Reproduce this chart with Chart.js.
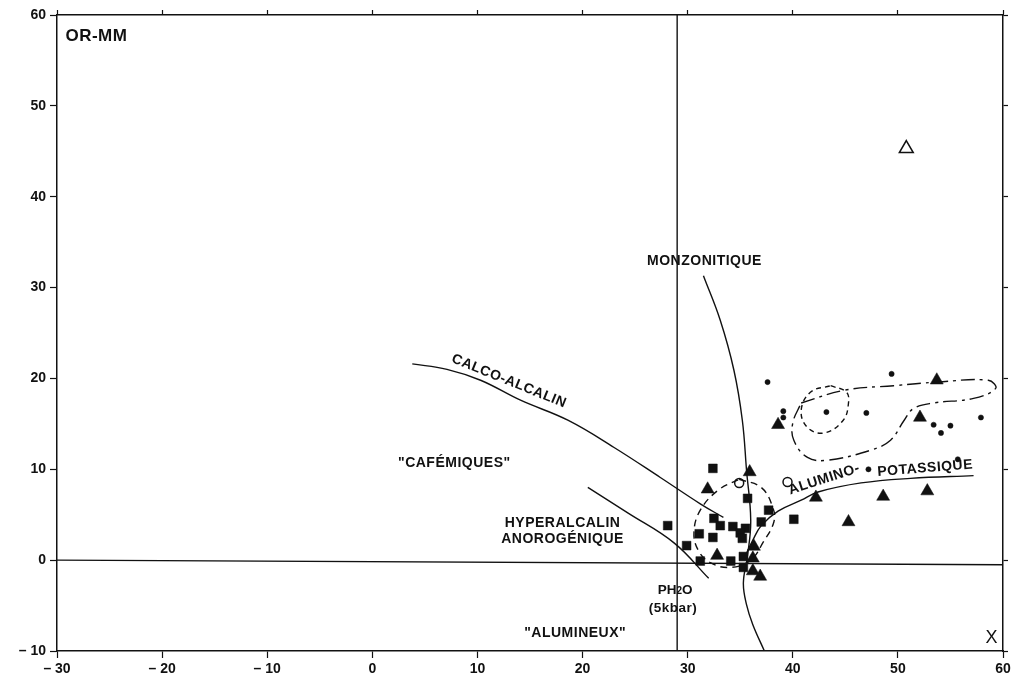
<!DOCTYPE html>
<html>
<head>
<meta charset="utf-8">
<title>OR-MM</title>
<script src="https://cdn.jsdelivr.net/npm/chart.js@4.4.1/dist/chart.umd.min.js"></script>
<style>
    body { margin: 0; background: #fff; }
    #wrap { width: 1015px; height: 679px; }
</style>
</head>
<body>
<div id="wrap"><canvas id="ormmChart" width="1015" height="679"></canvas></div>
<script>
// Axis ranges
const xRange = [-30, 60];
const yRange = [-10, 60];

// Samples, [x, y]
const squares = [
    [32.4, 10.1], [35.7, 6.8], [37.7, 5.5], [40.1, 4.5], [28.1, 3.8],
    [32.5, 4.6], [33.1, 3.8], [34.3, 3.7], [35.5, 3.5], [35.0, 3.0],
    [35.2, 2.4], [37.0, 4.2], [31.1, 2.9], [32.4, 2.5], [29.9, 1.6],
    [31.2, -0.1], [34.1, -0.1], [35.3, 0.4], [35.3, -0.8]
];
const triangles = [
    [35.9, 9.7], [31.9, 7.8], [32.8, 0.5], [36.3, 1.5], [36.2, 0.2],
    [36.2, -1.2], [36.9, -1.8], [38.6, 14.9], [42.2, 6.9], [45.3, 4.2],
    [48.6, 7.0], [52.8, 7.6], [52.1, 15.7], [53.7, 19.8]
];
const dots = [
    [37.6, 19.6], [49.4, 20.5], [39.1, 16.4], [39.1, 15.7], [43.2, 16.3],
    [47.0, 16.2], [53.4, 14.9], [54.1, 14.0], [55.0, 14.8], [57.9, 15.7],
    [55.7, 11.1], [47.2, 10.0]
];
const openCircles = [[34.9, 8.5], [39.5, 8.6]];
const openTriangles = [[50.8, 45.3]];

// Reference lines and boundaries
const verticalLine = [[29, -10], [29, 60]];
const horizontalLine = [[-30, 0], [60, -0.5]];
const monzonitique = [
    [31.5, 31.3], [33.1, 26.4], [34.4, 20.9], [35.2, 15.4], [35.6, 9.9],
    [36.0, 4.4], [35.7, 0.5], [35.3, -2.5], [35.6, -4.9], [36.2, -7.1], [37.3, -10]
];
const calcoAlcalin = [
    [3.8, 21.6], [7.1, 21.0], [10.3, 19.8], [14.1, 17.6], [18.6, 15.4],
    [23.0, 12.4], [27.4, 9.1], [31.2, 6.2], [33.4, 4.7]
];
const hyperalcalin = [[20.5, 8.0], [24.3, 5.2], [28.7, 1.9], [32.0, -2.0]];
const aluminoPotassique = [
    [35.5, 0.5], [36.2, 2.2], [37.0, 3.8], [38.6, 5.4], [40.8, 6.6],
    [42.4, 7.5], [46.5, 8.5], [51.2, 9.0], [57.2, 9.3]
];
const clusterOutline = [
    [34.9, 8.9], [37.0, 8.0], [38.1, 5.8], [38.2, 4.2], [37.2, 2.0], [36.0, 0.0],
    [34.1, -0.8], [32.2, -0.3], [31.0, 1.1], [30.6, 3.1], [31.2, 5.5], [32.9, 7.7], [34.9, 8.9]
];
const smallOutline = [
    [43.6, 19.2], [45.1, 18.5], [45.3, 17.3], [44.8, 15.4], [43.0, 14.0],
    [41.4, 14.6], [40.8, 16.5], [41.7, 18.5], [43.6, 19.2]
];
const dashDotOutline = [
    [40.8, 17.3], [44.9, 18.7], [49.6, 19.2], [53.8, 19.6], [58.6, 19.8], [59.3, 18.9],
    [57.2, 17.8], [53.4, 17.3], [51.5, 16.7], [50.6, 15.4], [49.3, 13.2], [47.4, 12.1],
    [43.3, 11.0], [41.4, 11.3], [40.1, 13.2], [40.0, 15.1], [40.8, 17.3]
];

const INK = '#111';
const FONT = '"Liberation Sans", Arial, sans-serif';

const toPoints = arr => arr.map(p => ({ x: p[0], y: p[1] }));
const tickText = v => v < 0 ? '\u2013 ' + Math.abs(v) : String(v);

// Builds a line dataset from a list of points
function lineSet(points, dash, tension) {
    return {
        data: toPoints(points),
        showLine: true,
        pointRadius: 0,
        borderColor: INK,
        borderWidth: 1.4,
        borderDash: dash || [],
        tension: tension || 0,
        fill: false
    };
}

function markerSet(points, style, radius, filled) {
    return {
        data: toPoints(points),
        showLine: false,
        pointStyle: style,
        pointRadius: radius,
        pointBackgroundColor: filled ? INK : '#fff',
        pointBorderColor: INK,
        pointBorderWidth: filled ? 0.5 : 1.5
    };
}

// Draws the text labels of the diagram at data positions
const fieldLabels = {
    id: 'fieldLabels',
    afterDatasetsDraw(chart) {
        const { ctx } = chart;
        const sx = chart.scales.x, sy = chart.scales.y;
        const put = (text, vx, vy, size, opts = {}) => {
            ctx.save();
            ctx.translate(sx.getPixelForValue(vx), sy.getPixelForValue(vy));
            if (opts.angle) ctx.rotate(opts.angle * Math.PI / 180);
            ctx.font = `${opts.weight || 'bold'} ${size}px ${FONT}`;
            ctx.letterSpacing = opts.spacing || '0.5px';
            ctx.fillStyle = INK;
            ctx.textAlign = opts.align || 'center';
            ctx.textBaseline = 'middle';
            ctx.fillText(text, 0, 0);
            ctx.restore();
        };
        put('OR-MM', -29.2, 57.7, 17, { align: 'left' });
        put('MONZONITIQUE', 31.6, 32.9, 14);
        put('CALCO-ALCALIN', 13.0, 19.7, 14, { angle: 22 });
        put('"CAFÉMIQUES"', 7.8, 10.7, 14);
        put('HYPERALCALIN', 18.1, 4.1, 14);
        put('ANOROGÉNIQUE', 18.1, 2.3, 14);
        put('(5kbar)', 28.6, -5.3, 13.5);
        put('"ALUMINEUX"', 19.3, -8.0, 14);
        put('ALUMINO-', 43.0, 8.9, 14, { angle: -18 });
        put('POTASSIQUE', 52.6, 10.1, 14, { angle: -4.5 });
        put('X', 58.9, -8.6, 18, { weight: 'normal', spacing: '0px' });

        // PH2O with a small 2
        ctx.save();
        const px = sx.getPixelForValue(28.8), py = sy.getPixelForValue(-3.3);
        ctx.fillStyle = INK;
        ctx.textBaseline = 'middle';
        ctx.font = `bold 13.5px ${FONT}`;
        const wPH = ctx.measureText('PH').width, wO = ctx.measureText('O').width;
        ctx.font = `bold 10px ${FONT}`;
        const w2 = ctx.measureText('2').width;
        const left = px - (wPH + w2 + wO) / 2;
        ctx.font = `bold 13.5px ${FONT}`;
        ctx.fillText('PH', left, py);
        ctx.font = `bold 10px ${FONT}`;
        ctx.fillText('2', left + wPH, py + 1);
        ctx.font = `bold 13.5px ${FONT}`;
        ctx.fillText('O', left + wPH + w2, py);
        ctx.restore();
    }
};

// Fixed axis sizes so the plot frame lands where the original is
const fixSize = (prop, size) => scale => { scale[prop] = size; };

const frameGrid = {
    drawOnChartArea: false,
    drawTicks: true,
    tickLength: 7,
    color: INK,
    tickWidth: 1.2
};
const frameBorder = { display: true, color: INK, width: 1.5 };

const DiagramChart = {
    chart: null,

    init: function() {
        const ctx = document.getElementById('ormmChart').getContext('2d');
        this.chart = new Chart(ctx, {
            type: 'scatter',
            data: {
                datasets: [
                    lineSet(verticalLine),
                    lineSet(horizontalLine),
                    lineSet(monzonitique, null, 0.4),
                    lineSet(calcoAlcalin, null, 0.4),
                    lineSet(hyperalcalin, null, 0.4),
                    lineSet(aluminoPotassique, null, 0.4),
                    lineSet(clusterOutline, [7, 5], 0.4),
                    lineSet(smallOutline, [5, 4], 0.4),
                    lineSet(dashDotOutline, [14, 5, 3, 5], 0.4),
                    markerSet(squares, 'rect', 6.2, true),
                    markerSet(triangles, 'triangle', 7.5, true),
                    markerSet(dots, 'circle', 2.6, true),
                    markerSet(openCircles, 'circle', 4.5, false),
                    markerSet(openTriangles, 'triangle', 8, false)
                ]
            },
            options: {
                responsive: false,
                animation: false,
                layout: { padding: 0 },
                plugins: {
                    legend: { display: false },
                    tooltip: { enabled: false }
                },
                scales: {
                    x: {
                        type: 'linear',
                        position: 'bottom',
                        min: xRange[0],
                        max: xRange[1],
                        grid: frameGrid,
                        border: frameBorder,
                        ticks: {
                            stepSize: 10,
                            color: INK,
                            padding: 3,
                            maxRotation: 0,
                            font: { family: FONT, size: 14, weight: 'bold' },
                            callback: tickText
                        },
                        afterFit: fixSize('height', 28)
                    },
                    xTop: {
                        type: 'linear',
                        position: 'top',
                        min: xRange[0],
                        max: xRange[1],
                        grid: Object.assign({}, frameGrid, { tickLength: 5 }),
                        border: frameBorder,
                        ticks: { stepSize: 10, display: false },
                        afterFit: fixSize('height', 15)
                    },
                    y: {
                        type: 'linear',
                        position: 'left',
                        min: yRange[0],
                        max: yRange[1],
                        grid: frameGrid,
                        border: frameBorder,
                        ticks: {
                            stepSize: 10,
                            color: INK,
                            padding: 4,
                            font: { family: FONT, size: 14, weight: 'bold' },
                            callback: tickText
                        },
                        afterFit: fixSize('width', 57)
                    },
                    yRight: {
                        type: 'linear',
                        position: 'right',
                        min: yRange[0],
                        max: yRange[1],
                        grid: Object.assign({}, frameGrid, { tickLength: 5 }),
                        border: frameBorder,
                        ticks: { stepSize: 10, display: false },
                        afterFit: fixSize('width', 12)
                    }
                }
            },
            plugins: [fieldLabels]
        });
    }
};

document.addEventListener('DOMContentLoaded', () => {
    DiagramChart.init();
});
</script>
</body>
</html>
